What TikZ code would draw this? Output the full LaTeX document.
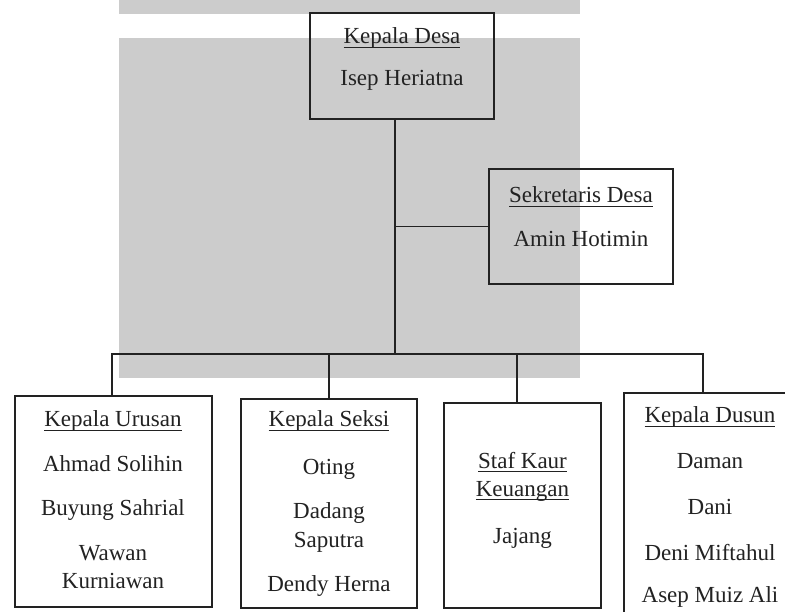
\documentclass[tikz,border=0pt]{standalone}
\usepackage{fontspec}
\setmainfont{Liberation Serif}
\newcommand\myul[1]{\setbox0\hbox{#1}\rlap{\rule[-3.8pt]{\wd0}{1.1pt}}\box0}
\definecolor{wmgray}{HTML}{CCCCCC}
\definecolor{ink}{HTML}{222222}
\tikzset{
  box/.style={draw=ink, line width=1.3pt, inner sep=0pt},
  txt/.style={anchor=base, inner sep=0pt, text=ink, font=\fontsize{23}{27}\selectfont},
  link/.style={draw=ink, line width=1.3pt}
}
\begin{document}
\begin{tikzpicture}[x=1pt,y=-1pt]
\clip (0,0) rectangle (785,612);
\fill[white] (0,0) rectangle (785,612);
% background grey panels
\fill[wmgray] (119,0) rectangle (580,14);
\fill[wmgray] (119,38) rectangle (580,378);

% boxes
\node[box, minimum width=184pt, minimum height=106pt] (desa) at (402,66) {};
\node[box, minimum width=184pt, minimum height=115pt] (sek) at (581,226.5) {};
\node[box, minimum width=197pt, minimum height=211pt] (urusan) at (113.5,501.5) {};
\node[box, minimum width=176pt, minimum height=209pt] (seksi) at (329,503.5) {};
\node[box, minimum width=157pt, minimum height=205pt] (staf) at (522.5,505.5) {};
\node[box, minimum width=172pt, minimum height=237pt] (dusun) at (710,511.5) {};

% texts
\node[txt] (t-desa1) at (402,44) {\myul{Kepala Desa}};
\node[txt] (t-desa2) at (402,86) {Isep Heriatna};
\node[txt] (t-sek1) at (581,203) {\myul{Sekretaris Desa}};
\node[txt] (t-sek2) at (581,247) {Amin Hotimin};

\node[txt] (t-u1) at (113,427) {\myul{Kepala Urusan}};
\node[txt] (t-u2) at (113,471) {Ahmad Solihin};
\node[txt] (t-u3) at (113,515) {Buyung Sahrial};
\node[txt] (t-u4) at (113,560) {Wawan};
\node[txt] (t-u5) at (113,588) {Kurniawan};

\node[txt] (t-s1) at (329,427) {\myul{Kepala Seksi}};
\node[txt] (t-s2) at (329,474) {Oting};
\node[txt] (t-s3) at (329,518) {Dadang};
\node[txt] (t-s4) at (329,547) {Saputra};
\node[txt] (t-s5) at (329,591) {Dendy Herna};

\node[txt] (t-k1) at (522.5,468) {\myul{Staf Kaur}};
\node[txt] (t-k2) at (522.5,496) {\myul{Keuangan}};
\node[txt] (t-k3) at (522.5,543) {Jajang};

\node[txt] (t-d1) at (710,423) {\myul{Kepala Dusun}};
\node[txt] (t-d2) at (710,468) {Daman};
\node[txt] (t-d3) at (710,514) {Dani};
\node[txt] (t-d4) at (710,560) {Deni Miftahul};
\node[txt] (t-d5) at (710,602) {Asep Muiz Ali};

% connectors
\coordinate (v) at (395,354);
\coordinate (jL) at (111,354);
\coordinate (jR) at (704,354);
\coordinate (d1) at (112,354);
\coordinate (d2) at (329,354);
\coordinate (d3) at (517,354);
\coordinate (d4) at (703,354);
\draw[link] (v |- desa.south) -- (v);
\draw[link] (v |- sek.west) -- (sek.west);
\draw[link] (jL) -- (jR);
\draw[link] (d1) -- (d1 |- urusan.north);
\draw[link] (d2) -- (d2 |- seksi.north);
\draw[link] (d3) -- (d3 |- staf.north);
\draw[link] (d4) -- (d4 |- dusun.north);
\end{tikzpicture}
\end{document}
